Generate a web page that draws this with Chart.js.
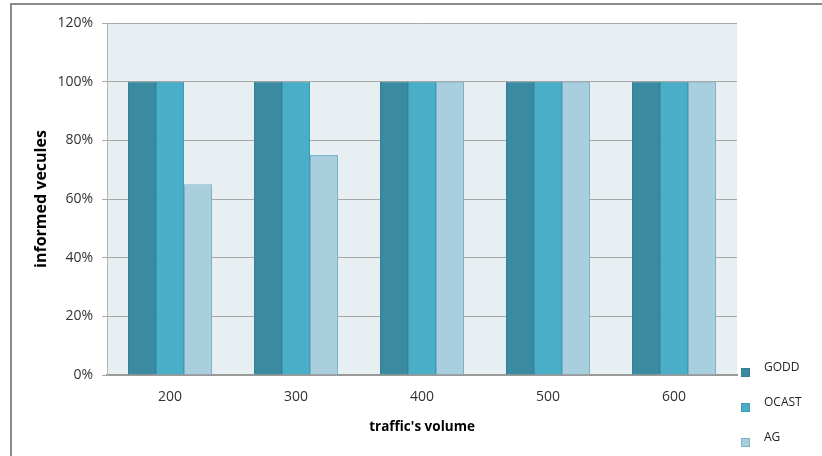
<!DOCTYPE html>
<html>
<head>
<meta charset="utf-8">
<script src="https://cdn.jsdelivr.net/npm/chart.js@4/dist/chart.umd.min.js"></script>
<style>
  html, body { margin: 0; padding: 0; background: #ffffff; }
  #wrap { width: 822px; height: 456px; position: relative; }
</style>
</head>
<body>
<div id="wrap"><canvas id="c" width="822" height="456"></canvas></div>
<script>
// Traffic volumes on the x axis
const categories = ['200', '300', '400', '500', '600'];
// Share of informed vehicles (%) per protocol
const godd = [100, 100, 100, 100, 100];
const ocast = [100, 100, 100, 100, 100];
const ag = [65, 75, 100, 100, 100];
const seriesNames = ['GODD', 'OCAST', 'AG'];
const yTicks = [0, 20, 40, 60, 80, 100, 120];

const fills = ['#3a8ba1', '#4aaec8', '#a9cfde'];
const edges = ['#347f93', '#3f9bb4', '#7cb3c7'];
const FONT = "'Open Sans', 'Liberation Sans', sans-serif";

// Plot background, outer frame and the side legend
const decor = {
  id: 'decor',
  beforeDraw(chart) {
    const { ctx, chartArea: a } = chart;
    ctx.save();
    ctx.fillStyle = '#e8eff3';
    ctx.fillRect(a.left, a.top, a.right - a.left, a.bottom - a.top);
    ctx.strokeStyle = '#8c8c8c';
    ctx.lineWidth = 2;
    ctx.beginPath();
    ctx.moveTo(11, 456);
    ctx.lineTo(11, 4);
    ctx.lineTo(822, 4);
    ctx.stroke();
    ctx.restore();
  },
  afterDraw(chart) {
    const { ctx, chartArea: a } = chart;
    ctx.save();
    ctx.font = '12px ' + FONT;
    ctx.textBaseline = 'middle';
    chart.data.datasets.forEach((ds, i) => {
      const y = 372 + i * 35;
      const x = a.right + 4;
      ctx.fillStyle = ds.backgroundColor;
      ctx.fillRect(x, y - 4, 9, 9);
      ctx.strokeStyle = ds.borderColor;
      ctx.lineWidth = 1;
      ctx.strokeRect(x + 0.5, y - 3.5, 8, 8);
      ctx.fillStyle = '#222';
      ctx.fillText(ds.label, x + 23, y - 4);
    });
    ctx.restore();
  }
};

new Chart(document.getElementById('c'), {
  type: 'bar',
  data: {
    labels: categories,
    datasets: [godd, ocast, ag].map((d, i) => ({
      label: seriesNames[i],
      data: d,
      backgroundColor: fills[i],
      borderColor: edges[i],
      borderWidth: 1,
      categoryPercentage: 0.667,
      barPercentage: 1.0
    }))
  },
  options: {
    responsive: false,
    animation: false,
    layout: { padding: { top: 23, right: 85, bottom: 0, left: 0 } },
    plugins: { legend: { display: false }, tooltip: { enabled: false } },
    scales: {
      x: {
        grid: { display: false, drawTicks: false },
        border: { display: true, color: '#9a9a9a', width: 2 },
        ticks: { color: '#333', font: { family: FONT, size: 14 }, padding: 14 },
        title: { display: true, text: "traffic's volume", color: '#000',
                 font: { family: FONT, size: 13.5, weight: 'bold' }, padding: { top: 0, bottom: 21 } },
        afterFit(s) { s.height = 81; }
      },
      y: {
        min: 0, max: 120,
        afterBuildTicks(s) { s.ticks = yTicks.map(v => ({ value: v })); },
        grid: { color: '#a8a8a8', lineWidth: 1, tickLength: 5 },
        border: { display: true, color: '#b4b4b4', width: 1 },
        ticks: { color: '#333', font: { family: FONT, size: 14 }, padding: 9,
                 callback: v => v + '%' },
        title: { display: true, text: 'informed vecules', color: '#000',
                 font: { family: FONT, size: 16, weight: 'bold' }, padding: { top: 32, bottom: 0 } },
        afterFit(s) { s.width = 107; }
      }
    }
  },
  plugins: [decor]
});
</script>
</body>
</html>
